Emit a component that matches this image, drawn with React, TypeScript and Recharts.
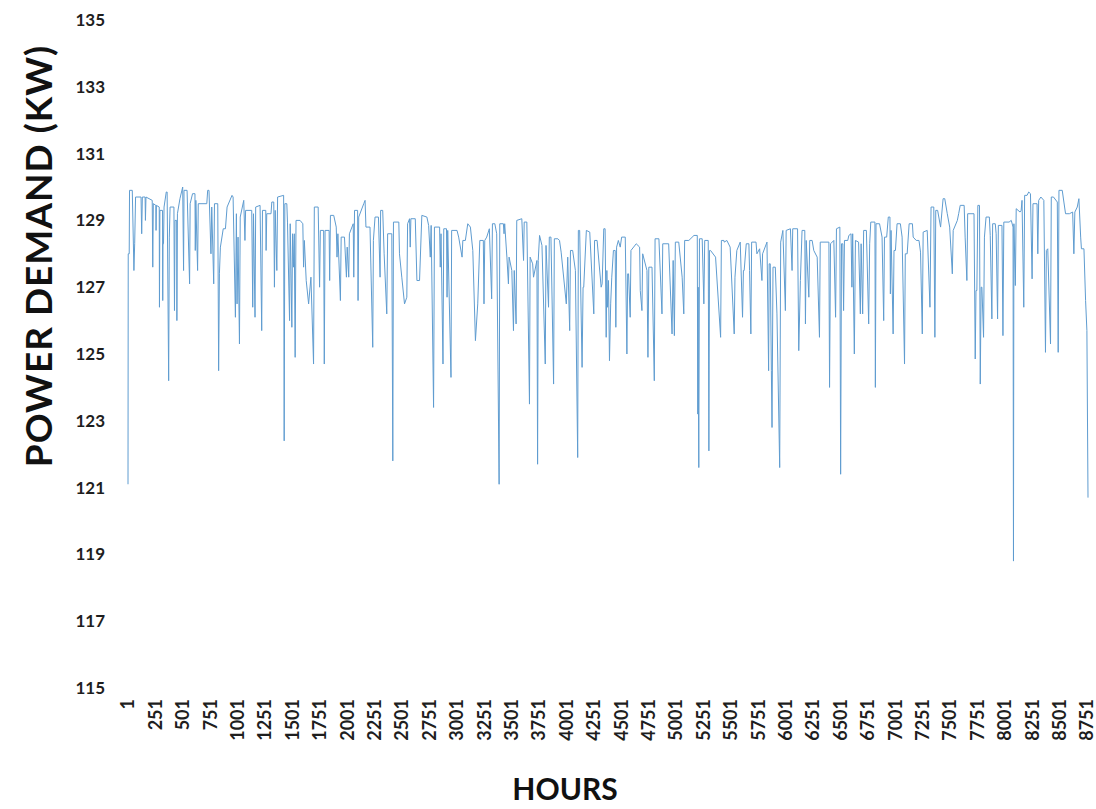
import React from 'react';
import { LineChart, Line, XAxis, YAxis, Label } from 'recharts';

const X_TICKS = [1, 251, 501, 751, 1001, 1251, 1501, 1751, 2001, 2251, 2501, 2751, 3001, 3251, 3501, 3751, 4001, 4251, 4501, 4751, 5001, 5251, 5501, 5751, 6001, 6251, 6501, 6751, 7001, 7251, 7501, 7751, 8001, 8251, 8501, 8751];
const Y_TICKS = [115, 117, 119, 121, 123, 125, 127, 129, 131, 133, 135];

// [hour, kW] readings
const WINTER_EARLY: [number, number][] = [
  [1,121.1],[3,128.0],[12,128.0],[15,129.9],[40,129.9],[55,127.5],[62,128.3],[70,129.7],[120,129.7],[126,128.6],[132,129.7],[157,129.7],[160,129.0],[165,129.7],[222,129.6],[227,127.6],[232,129.5],[255,129.45],[257,128.7],[260,129.45],[286,129.4],[288,126.4],[292,129.3],[316,129.3],[318,126.6],[320,128.3],[325,128.3],[330,129.4],[350,129.85],[358,129.85],[372,124.2],[378,128.5],[385,129.4],[420,129.4],[425,126.3],[430,129.0],[445,129.0],[447,126.0],[452,129.2],[475,129.65],[500,130.0],[508,127.5],[512,129.9],[540,129.9],[563,127.1],[568,129.5],[590,129.8],[612,129.8],[615,128.1],[620,129.6],[636,127.5],[642,129.5],[720,129.5],[728,129.9],[740,129.9],[758,128.0],[765,129.4],[783,127.1],[790,129.5],[820,129.5],[828,124.5],[835,127.4],[844,128.2],[870,128.75],[890,128.75],[905,129.4],[950,129.75],[960,129.7],[981,126.1],[990,129.2],[996,126.5],[1005,128.5],[1018,125.3],[1025,129.1],[1057,129.6],
];
const WINTER_LATE: [number, number][] = [
  [1068,128.4],[1074,129.3],[1130,129.3],[1139,126.4],[1146,129.2],[1160,126.1],[1166,129.4],[1206,129.45],[1221,125.7],[1228,129.3],[1258,129.3],[1261,128.1],[1267,129.2],[1306,129.2],[1313,129.55],[1331,129.55],[1337,127.0],[1344,129.3],[1359,127.5],[1366,129.7],[1421,129.75],[1426,122.4],[1432,129.5],[1450,129.5],[1456,128.95],[1475,126.0],[1481,128.9],[1496,125.8],[1502,128.6],[1511,127.6],[1518,128.6],[1526,124.9],[1534,129.0],[1571,129.0],[1596,128.9],[1603,127.6],[1610,128.4],[1627,127.2],[1649,126.5],[1670,127.3],[1694,124.7],[1701,129.4],[1736,129.4],[1749,127.0],[1756,128.7],[1786,128.7],[1792,124.7],[1799,128.7],[1836,128.7],[1841,127.2],[1848,129.15],[1878,129.15],[1901,128.8],[1908,127.9],[1916,128.6],[1939,126.6],[1946,128.5],[1976,128.5],[1994,127.3],[2001,128.2],[2015,127.3],[2021,128.6],[2056,128.9],[2061,127.3],[2068,129.3],[2096,129.3],[2100,126.6],[2106,129.1],[2152,129.5],
];
const SPRING: [number, number][] = [
  [2164,129.6],[2172,128.8],[2209,128.8],[2234,125.2],[2240,128.4],[2255,129.1],[2286,129.1],[2301,127.3],[2306,129.3],[2325,129.3],[2338,128.0],[2362,126.2],[2370,128.6],[2408,128.6],[2417,121.8],[2423,128.95],[2472,128.95],[2478,128.0],[2499,127.3],[2524,126.5],[2545,126.7],[2552,128.9],[2570,129.05],[2576,128.2],[2582,129.05],[2622,129.05],[2637,127.2],[2661,127.2],[2682,129.15],[2728,129.1],[2744,128.85],[2759,127.9],[2767,128.85],[2789,123.4],[2797,128.8],[2844,128.8],[2850,127.6],[2857,128.6],[2875,124.7],[2882,128.75],[2907,128.75],[2912,126.7],[2918,128.7],[2948,124.3],[2954,128.7],[3003,128.7],[3018,128.5],[3049,127.9],[3056,128.4],[3079,128.4],[3101,128.9],[3125,128.8],[3147,128.1],[3171,125.4],[3192,126.5],[3211,128.4],
  [3243,128.4],[3249,126.5],[3256,128.4],[3274,128.5],[3298,128.75],[3319,126.65],[3326,128.9],[3348,128.9],[3365,128.6],[3387,121.1],[3393,128.9],[3426,128.9],[3432,128.6],[3438,128.9],[3458,127.9],[3472,127.1],[3478,127.9],[3503,127.5],[3518,125.7],[3525,127.5],[3542,125.9],[3548,129.0],[3594,129.05],[3610,127.8],[3616,128.95],[3640,128.95],[3664,123.5],[3670,127.9],[3693,127.7],[3701,127.3],[3732,127.8],[3738,121.7],[3744,127.8],[3756,128.55],[3778,128.25],[3808,124.7],[3815,128.25],[3838,126.4],[3845,128.5],[3860,128.5],[3884,124.1],[3891,128.45],[3923,128.45],[3938,128.4],[3953,128.05],[4000,126.5],[4013,127.9],[4031,125.7],[4038,128.1],[4058,128.1],[4083,127.5],[4104,121.9],[4110,128.7],[4122,128.7],[4144,124.6],[4153,127.0],[4159,127.0],[4183,128.7],[4214,128.65],[4251,126.2],[4258,128.4],[4281,128.4],[4318,127.0],[4327,127.1],[4342,128.75],
];
const SUMMER: [number, number][] = [
  [4354,128.75],[4364,125.5],[4370,127.5],[4376,126.4],[4385,127.2],[4394,124.8],[4405,126.5],[4415,127.3],[4430,128.1],[4446,128.1],[4452,125.8],[4459,128.2],[4475,128.4],[4492,128.2],[4505,128.5],[4538,128.5],[4553,125.0],[4560,127.4],[4568,127.4],[4583,126.1],[4590,128.1],[4638,128.3],[4669,128.2],[4675,126.9],[4690,126.3],[4697,128.0],[4736,127.5],[4745,124.9],[4753,127.6],[4782,127.6],[4803,124.2],[4810,128.45],[4845,128.45],[4873,126.2],[4880,128.3],[4934,128.3],[4965,125.6],[4975,127.8],[4986,125.55],[4995,128.35],[5026,128.35],[5057,127.3],[5072,126.2],[5080,128.4],[5118,128.4],[5165,128.55],[5195,128.55],[5200,123.2],[5203,127.0],[5206,123.3],[5209,121.6],[5215,128.45],[5240,128.45],[5255,126.5],[5263,128.4],[5295,128.4],[5301,122.1],[5307,128.1],[5316,128.1],[5362,127.9],[5408,125.5],[5415,128.4],[5438,128.4],
  [5441,128.35],[5465,128.4],[5495,128.2],[5532,125.6],[5539,127.3],[5556,128.1],[5587,128.35],[5608,126.1],[5616,127.5],[5623,127.5],[5642,128.3],[5666,128.3],[5672,127.5],[5684,125.6],[5691,128.35],[5731,128.35],[5739,128.0],[5764,128.15],[5785,127.2],[5791,128.0],[5831,128.35],[5846,124.5],[5851,127.7],[5861,127.7],[5871,124.5],[5877,122.8],[5886,127.6],[5907,127.6],[5922,126.2],[5947,121.6],[5956,128.35],[5976,128.7],[5999,126.3],[6006,128.7],[6045,128.75],[6060,127.5],[6066,128.75],[6110,128.75],[6121,125.1],[6136,127.2],[6151,128.7],[6176,128.7],[6182,125.9],[6189,128.4],[6213,126.7],[6221,128.4],[6243,128.4],[6258,128.1],[6289,127.9],[6310,125.5],[6317,128.35],[6396,128.35],[6402,124.0],[6411,128.3],[6441,128.4],[6457,126.1],[6465,128.75],[6496,128.8],[6503,121.4],[6511,128.3],
];
const AUTUMN: [number, number][] = [
  [6523,128.3],[6530,126.3],[6538,128.4],[6568,128.4],[6578,128.55],[6598,128.6],[6606,127.0],[6613,128.6],[6628,125.0],[6638,128.4],[6667,128.35],[6683,126.2],[6690,128.3],[6704,126.2],[6713,128.7],[6738,128.7],[6759,125.9],[6768,128.3],[6778,128.95],[6816,128.95],[6820,124.0],[6826,128.9],[6858,128.9],[6881,128.5],[6896,126.0],[6903,128.5],[6923,128.5],[6938,129.1],[6953,129.1],[6957,126.8],[6963,128.7],[6982,125.6],[6990,128.1],[7003,128.1],[7018,128.9],[7048,128.9],[7064,128.5],[7086,124.7],[7093,128.0],[7110,128.0],[7128,128.9],[7158,128.9],[7165,128.5],[7193,128.4],[7218,128.4],[7232,128.05],[7248,125.6],[7256,128.65],[7293,128.7],[7318,126.4],[7328,129.4],[7353,129.4],[7363,125.5],[7371,129.3],[7388,129.3],[7415,128.8],[7438,129.65],[7453,129.65],[7476,129.2],[7498,128.8],[7522,127.4],[7530,128.7],[7568,129.0],[7580,129.2],
];
const WINTER_END: [number, number][] = [
  [7594,129.45],[7630,129.45],[7639,128.5],[7655,127.2],[7662,129.2],[7720,129.2],[7731,124.85],[7738,126.9],[7746,126.9],[7755,129.45],[7770,129.45],[7777,124.1],[7785,127.0],[7792,127.0],[7807,125.5],[7815,128.5],[7830,129.1],[7860,129.1],[7868,128.55],[7883,126.05],[7890,128.9],[7914,128.9],[7922,128.6],[7935,126.05],[7942,128.85],[7975,128.85],[7984,125.55],[7992,128.95],[8040,128.95],[8060,129.0],[8076,128.8],[8080,118.8],[8084,128.9],[8097,127.05],[8105,129.35],[8140,129.25],[8150,129.3],[8158,129.6],[8174,126.4],[8182,129.75],[8204,129.75],[8219,129.85],[8235,129.8],[8250,127.25],[8258,129.5],[8295,129.5],[8302,128.0],[8310,129.6],[8330,129.7],[8357,129.6],[8372,125.05],[8380,128.1],[8393,128.15],[8418,125.3],[8425,129.7],[8445,129.7],[8480,129.55],[8488,125.05],[8495,129.9],[8525,129.9],[8540,129.55],[8555,129.2],[8590,129.2],[8620,129.25],[8631,128.0],[8640,129.25],[8662,129.4],[8677,129.65],[8693,128.5],[8700,128.15],[8723,128.15],[8738,126.6],[8750,125.7],[8760,120.7],
];

const data = [...WINTER_EARLY, ...WINTER_LATE, ...SPRING, ...SUMMER, ...AUTUMN, ...WINTER_END].map(
  ([hour, kw]) => ({ hour, kw })
);

const FONT = 'Lato, "Open Sans", sans-serif';

const XTick = (props: any) => {
  const { x, y, payload } = props;
  return (
    <g transform={`translate(${x},${y + 11})`}>
      <text transform="rotate(-90)" textAnchor="end" dy="0.36em" fontFamily={FONT} fontWeight={700} fontSize={18} fill="#1e1e1e">
        {payload.value}
      </text>
    </g>
  );
};

export default function App() {
  return (
    <div style={{ position: 'absolute', left: 0, top: 0, width: 1096, height: 809, background: '#fff' }}>
      <LineChart width={1096} height={809} data={data} margin={{ top: 20, right: 8, left: 0, bottom: 0 }}>
        <XAxis
          dataKey="hour"
          type="number"
          domain={[1, 8760]}
          ticks={X_TICKS}
          interval={0}
          axisLine={false}
          tickLine={false}
          tickSize={0}
          tickMargin={0}
          height={121}
          tick={<XTick />}
        >
          <Label
            content={() => (
              <text x={565} y={788} textAnchor="middle" dominantBaseline="central" fontFamily={FONT} fontWeight={700} fontSize={30} fill="#111">
                HOURS
              </text>
            )}
          />
        </XAxis>
        <YAxis
          type="number"
          domain={[115, 135]}
          ticks={Y_TICKS}
          interval={0}
          width={128}
          axisLine={false}
          tickLine={false}
          tickSize={0}
          tickMargin={23}
          tick={{ fontFamily: FONT, fontWeight: 700, fontSize: 17, fill: '#1e1e1e' }}
        >
          <Label
            content={() => (
              <text x={37} y={256} transform="rotate(-90 37 256)" textAnchor="middle" dominantBaseline="central" fontFamily={FONT} fontWeight={700} fontSize={37} letterSpacing={1} fill="#111">
                POWER DEMAND (KW)
              </text>
            )}
          />
        </YAxis>
        <Line type="linear" dataKey="kw" stroke="#5f9cd0" strokeWidth={1} dot={false} isAnimationActive={false} />
      </LineChart>
    </div>
  );
}
